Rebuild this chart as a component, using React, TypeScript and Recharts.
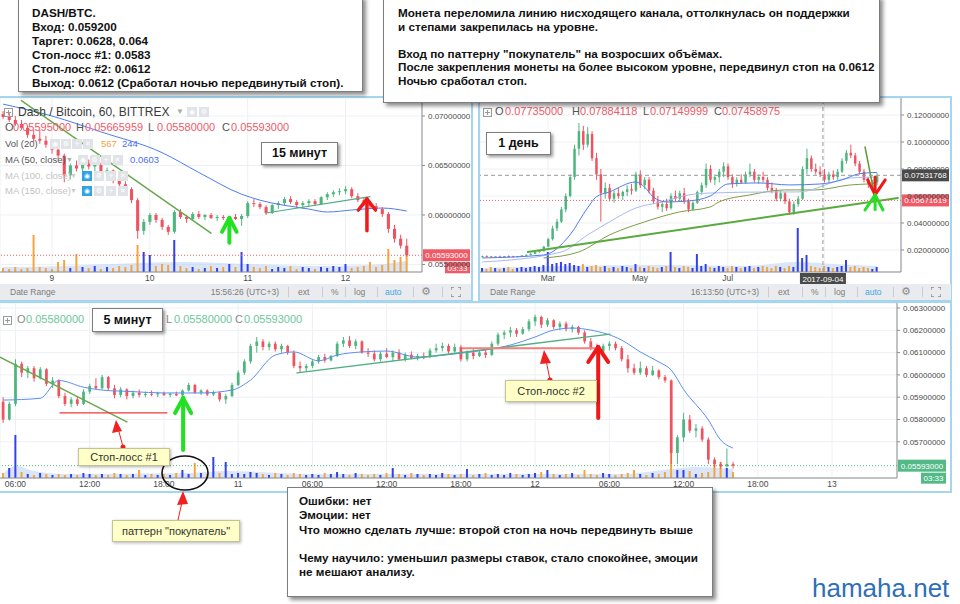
import React from "react";
import {
  ComposedChart,
  Bar,
  Line,
  Area,
  XAxis,
  YAxis,
  CartesianGrid,
  ReferenceLine,
  Cell,
} from "recharts";

const FONT = "'Liberation Sans', Arial, Helvetica, sans-serif";
const UP = "#4fb57f";
const DOWN = "#ee5360";
const VOL_UP = "#3440ec";
const VOL_DOWN = "#f8a33c";
const AXIS = "#8e8e8e";
const FRAME = "#a6d6ee";
const ARROW_GREEN = "#22e022";
const ARROW_RED = "#f01818";

// ---- hourly panel ("15 минут"), prices in 1e-4 BTC: [open, high, low, close]
const hourlyCandles = [
  [702, 705, 697, 699], [699, 703, 694, 696], [696, 700, 690, 692], [692, 696, 686, 688], [688, 690, 678, 681],
  [681, 686, 674, 677], [677, 686, 672, 675], [675, 680, 668, 671], [671, 675, 662, 666], [666, 670, 656, 660],
  [660, 662, 633, 640], [640, 652, 636, 650], [650, 655, 644, 647], [647, 654, 643, 652], [652, 656, 646, 649],
  [649, 654, 644, 651], [651, 653, 640, 643], [643, 648, 638, 645], [645, 646, 632, 636], [636, 640, 628, 631],
  [631, 634, 622, 626], [626, 628, 612, 615], [615, 617, 576, 584], [584, 596, 580, 593], [593, 602, 590, 600],
  [600, 602, 592, 595], [595, 597, 585, 588], [588, 590, 580, 583], [583, 605, 581, 603], [603, 606, 596, 598],
  [598, 600, 592, 596], [596, 603, 594, 601], [601, 604, 596, 598], [598, 601, 595, 600], [600, 602, 596, 597],
  [597, 600, 594, 598], [598, 600, 595, 597], [597, 599, 594, 598], [598, 601, 595, 596], [596, 601, 589, 599],
  [599, 614, 597, 612], [612, 616, 608, 611], [611, 613, 606, 608], [608, 610, 600, 602], [602, 611, 601, 610],
  [610, 614, 606, 612], [612, 618, 609, 616], [616, 619, 611, 613], [613, 615, 607, 610], [610, 614, 606, 612],
  [612, 616, 609, 614], [614, 616, 609, 611], [611, 619, 610, 618], [618, 623, 615, 621], [621, 625, 618, 623],
  [623, 627, 620, 624], [624, 629, 621, 626], [626, 628, 617, 619], [619, 622, 613, 615], [615, 618, 609, 611],
  [611, 614, 607, 609], [609, 612, 604, 606], [606, 608, 598, 601], [601, 603, 582, 586], [586, 590, 572, 576],
  [576, 580, 566, 569], [569, 576, 558, 559.3],
];
const hourlyVolume = [
  4, 3, 5, 3, 4, 37, 5, 4, 3, 10, 12, 4, 18, 5, 4, 6, 3, 5, 4, 6,
  5, 7, 27, 20, 17, 6, 8, 7, 32, 6, 4, 5, 3, 4, 6, 4, 5, 8, 5, 20,
  8, 5, 4, 6, 3, 5, 4, 6, 3, 5, 4, 3, 5, 4, 6, 5, 8, 4, 5, 6,
  10, 5, 7, 23, 12, 15, 23,
];
const hourlyMa50 = [
  [0, 712], [8, 700], [16, 684], [26, 663], [32, 643], [39, 621], [42, 615],
  [50, 606], [53, 603], [57, 605], [62, 607], [66, 604],
];
const hourlyVolMa = [[0, 5], [10, 6], [22, 9], [30, 10], [40, 8], [52, 6], [60, 7], [66, 11]];
const hourlyDays = [8, 24, 40, 56];
const hourlyDayLabels = ["9", "10", "11", "12"];
const hourlyPriceTicks = [0.055, 0.06, 0.065, 0.07];

// ---- daily panel ("1 день"), 3-day candles, 1e-4 BTC
const dailyCandles = [
  [150, 158, 146, 154], [154, 160, 150, 152], [152, 156, 146, 149], [149, 155, 145, 153], [153, 158, 150, 151],
  [151, 156, 147, 155], [155, 160, 151, 153], [153, 157, 148, 150], [150, 156, 147, 154], [154, 162, 152, 160],
  [160, 168, 156, 164], [164, 176, 160, 172], [172, 190, 168, 186], [186, 200, 180, 192], [192, 230, 188, 225],
  [225, 290, 220, 280], [280, 380, 270, 360], [360, 430, 340, 410], [410, 520, 400, 500], [500, 620, 480, 600],
  [600, 760, 590, 740], [740, 980, 720, 950], [950, 1140, 900, 1080], [1080, 1120, 940, 980], [980, 1110, 960, 1060],
  [1060, 1080, 860, 880], [880, 920, 720, 760], [760, 800, 410, 620], [620, 700, 580, 660], [660, 690, 560, 580],
  [580, 640, 550, 620], [620, 660, 580, 600], [600, 640, 570, 630], [630, 680, 600, 650], [650, 690, 610, 640],
  [640, 780, 630, 760], [760, 790, 660, 680], [680, 740, 650, 720], [720, 740, 620, 640], [640, 660, 540, 560],
  [560, 600, 500, 520], [520, 560, 480, 540], [540, 580, 490, 510], [510, 620, 500, 600], [600, 640, 560, 580],
  [580, 640, 560, 620], [620, 660, 540, 560], [560, 580, 480, 500], [500, 560, 490, 550], [550, 640, 540, 630],
  [630, 700, 610, 680], [680, 840, 660, 800], [800, 830, 700, 720], [720, 760, 680, 740], [740, 800, 700, 780],
  [780, 850, 740, 820], [820, 840, 720, 740], [740, 760, 660, 690], [690, 740, 670, 720], [720, 760, 690, 700],
  [700, 780, 690, 760], [760, 840, 740, 780], [780, 800, 700, 720], [720, 760, 690, 740], [740, 780, 700, 720],
  [720, 740, 640, 660], [660, 700, 620, 640], [640, 660, 560, 580], [580, 640, 560, 620], [620, 630, 540, 560],
  [560, 580, 460, 480], [480, 560, 460, 540], [540, 600, 520, 580], [580, 820, 570, 800], [800, 950, 760, 880],
  [880, 900, 780, 800], [800, 840, 760, 780], [780, 820, 740, 760], [760, 800, 700, 720], [720, 780, 700, 760],
  [760, 790, 720, 740], [740, 800, 720, 780], [780, 880, 770, 860], [860, 940, 840, 920], [920, 980, 880, 900],
  [900, 920, 820, 840], [840, 860, 760, 780], [780, 800, 700, 720], [720, 740, 660, 690], [690, 720, 650, 700],
  [700, 770, 680, 746],
];
const dailyVolume = [
  4, 3, 5, 4, 3, 4, 5, 3, 4, 5, 4, 5, 6, 5, 7, 20, 8, 9, 10, 8,
  9, 7, 6, 8, 5, 6, 7, 5, 6, 4, 5, 4, 6, 5, 4, 8, 5, 4, 6, 5,
  4, 5, 6, 20, 5, 4, 6, 5, 4, 18, 6, 8, 5, 4, 6, 5, 4, 6, 5, 4,
  5, 6, 4, 5, 6, 5, 4, 6, 5, 4, 6, 5, 44, 14, 17, 6, 5, 4, 6, 5,
  4, 5, 6, 12, 5, 6, 4, 5, 4, 3, 5,
];
const dailyMa50 = [
  [0, 141], [14, 163], [20, 311], [24, 511], [26, 593], [29, 630], [35, 704], [37, 667], [39, 593],
  [42, 556], [47, 563], [52, 600], [56, 689], [63, 697], [70, 682], [77, 689], [82, 719], [86, 765], [90, 775],
];
const dailyMa100 = [
  [0, 111], [18, 185], [24, 311], [29, 408], [35, 511], [41, 556], [47, 608], [52, 622],
  [66, 630], [72, 630], [84, 734], [90, 741],
];
const dailyMa150 = [
  [14, 141], [22, 185], [29, 311], [37, 408], [45, 482], [52, 519], [54, 556], [61, 608],
  [69, 645], [76, 645], [84, 682], [88, 689],
];
const dailyVolMa = [[0, 4], [20, 6], [40, 7], [60, 6], [72, 10], [80, 8], [90, 6]];
const dailyMonths = [15, 36, 56, 78];
const dailyMonthLabels = ["Mar", "May", "Jul", ""];
const dailyPriceTicks = [0.02, 0.04, 0.06, 0.08, 0.1, 0.12];

// ---- 5 min panel ("5 минут"), shown as 30-min candles, 1e-5 BTC
const fiveCandles = [
  [5880, 5900, 5785, 5800], [5800, 5880, 5795, 5870], [5870, 6070, 5860, 6050], [6050, 6060, 5990, 6010], [6010, 6040, 5985, 6030],
  [6030, 6040, 5970, 5985], [5985, 6035, 5980, 6025], [6025, 6030, 5950, 5960], [5960, 5990, 5940, 5975], [5975, 5980, 5895, 5905],
  [5905, 5920, 5860, 5870], [5870, 5900, 5855, 5890], [5890, 5905, 5860, 5870], [5870, 5935, 5865, 5925], [5925, 5960, 5915, 5950],
  [5950, 5985, 5935, 5940], [5940, 6000, 5935, 5990], [5990, 5995, 5930, 5940], [5940, 5955, 5895, 5910], [5910, 5945, 5900, 5935],
  [5935, 5940, 5890, 5905], [5905, 5930, 5895, 5920], [5920, 5935, 5900, 5910], [5910, 5925, 5900, 5915], [5915, 5930, 5905, 5912],
  [5912, 5925, 5900, 5918], [5918, 5925, 5905, 5910], [5910, 5920, 5900, 5915], [5915, 5925, 5905, 5908], [5908, 5935, 5905, 5930],
  [5930, 5965, 5925, 5955], [5955, 5960, 5915, 5920], [5920, 5935, 5910, 5930], [5930, 5935, 5905, 5912], [5912, 5930, 5905, 5920],
  [5920, 5925, 5880, 5890], [5890, 5915, 5870, 5905], [5905, 5965, 5900, 5955], [5955, 6020, 5950, 6010], [6010, 6070, 6000, 6060],
  [6060, 6140, 6050, 6130], [6130, 6170, 6100, 6150], [6150, 6160, 6110, 6125], [6125, 6150, 6110, 6140], [6140, 6150, 6105, 6115],
  [6115, 6140, 6100, 6130], [6130, 6135, 6090, 6100], [6100, 6110, 6030, 6040], [6040, 6060, 6010, 6030], [6030, 6050, 6015, 6040],
  [6040, 6070, 6030, 6060], [6060, 6090, 6050, 6080], [6080, 6095, 6055, 6065], [6065, 6090, 6060, 6085], [6085, 6150, 6080, 6140],
  [6140, 6170, 6125, 6155], [6155, 6175, 6120, 6130], [6130, 6160, 6115, 6150], [6150, 6155, 6095, 6100], [6100, 6120, 6080, 6095],
  [6095, 6110, 6060, 6070], [6070, 6105, 6060, 6095], [6095, 6120, 6075, 6080], [6080, 6110, 6060, 6100], [6100, 6115, 6065, 6070],
  [6070, 6100, 6060, 6090], [6090, 6105, 6070, 6075], [6075, 6095, 6065, 6085], [6085, 6100, 6070, 6080], [6080, 6120, 6075, 6110],
  [6110, 6140, 6100, 6120], [6120, 6145, 6105, 6130], [6130, 6140, 6095, 6105], [6105, 6140, 6100, 6125], [6125, 6135, 6060, 6070],
  [6070, 6110, 6060, 6100], [6100, 6115, 6070, 6085], [6085, 6110, 6080, 6100], [6100, 6120, 6075, 6090], [6090, 6150, 6085, 6140],
  [6140, 6190, 6130, 6180], [6180, 6200, 6160, 6190], [6190, 6215, 6170, 6200], [6200, 6210, 6170, 6185], [6185, 6215, 6180, 6205],
  [6205, 6250, 6195, 6240], [6240, 6270, 6220, 6260], [6260, 6265, 6210, 6225], [6225, 6255, 6215, 6245], [6245, 6250, 6205, 6215],
  [6215, 6240, 6200, 6230], [6230, 6240, 6195, 6205], [6205, 6225, 6190, 6215], [6215, 6220, 6180, 6190], [6190, 6200, 6140, 6150],
  [6150, 6165, 6110, 6120], [6120, 6140, 6095, 6105], [6105, 6140, 6100, 6130], [6130, 6150, 6110, 6140], [6140, 6150, 6110, 6120],
  [6120, 6130, 6060, 6070], [6070, 6090, 6010, 6030], [6030, 6050, 6000, 6010], [6010, 6060, 6000, 6030], [6030, 6040, 5990, 6000],
  [6000, 6040, 5995, 6020], [6020, 6025, 5980, 5990], [5990, 6000, 5965, 5975], [5975, 5980, 5600, 5650], [5650, 5730, 5600, 5720],
  [5720, 5830, 5700, 5800], [5800, 5820, 5740, 5750], [5750, 5780, 5720, 5760], [5760, 5770, 5700, 5710], [5710, 5720, 5600, 5620],
  [5620, 5630, 5585, 5600], [5600, 5610, 5580, 5590], [5590, 5670, 5585, 5600], [5600, 5610, 5580, 5593],
];
const fiveVolume = [
  5, 10, 43, 6, 4, 3, 5, 4, 3, 4, 3, 4, 3, 5, 4, 3, 4, 3, 5, 4,
  3, 4, 8, 3, 4, 3, 4, 3, 5, 8, 4, 15, 5, 4, 21, 5, 16, 4, 5, 4,
  6, 5, 4, 3, 5, 4, 3, 5, 4, 3, 4, 3, 5, 4, 6, 4, 3, 5, 4, 3,
  4, 3, 5, 10, 4, 3, 5, 4, 3, 4, 3, 5, 4, 3, 4, 9, 3, 4, 5, 3,
  4, 3, 5, 4, 3, 4, 5, 6, 8, 4, 3, 4, 5, 3, 8, 4, 3, 5, 4, 3,
  4, 5, 8, 4, 3, 5, 4, 6, 26, 8, 8, 7, 4, 5, 6, 15, 16, 10, 6,
];
const fiveMa = [
  [0, 5887], [6, 5895], [9, 5975], [13, 5945], [16, 5932], [21, 5925], [26, 5919], [32, 5919],
  [37, 5932], [40, 5977], [44, 6089], [47, 6103], [51, 6063], [54, 6089], [58, 6103], [62, 6107],
  [67, 6080], [73, 6094], [78, 6112], [82, 6134], [86, 6170], [89, 6201], [92, 6210], [95, 6201],
  [100, 6156], [103, 6103], [106, 6058], [108, 6022], [110, 5935], [114, 5798], [116, 5708], [118, 5672],
];
const fiveVolMa = [[0, 4], [2, 12], [5, 7], [10, 4], [30, 5], [36, 7], [50, 4], [80, 4], [100, 4], [108, 9], [112, 11], [118, 9]];
const fiveTimes = [2, 14, 26, 38, 50, 62, 74, 86, 98, 110, 122, 134];
const fiveTimeLabels = ["06:00", "12:00", "18:00", "11", "06:00", "12:00", "18:00", "12", "06:00", "12:00", "18:00", "13"];
const fivePriceTicks = [0.057, 0.058, 0.059, 0.06, 0.061, 0.062, 0.063];

// drawn annotations: [x1, y1, x2, y2, colour, width] in panel units
const hourlySegs: any[] = [
  [3, 715.6, 34, 581.7, "#6aa84f", 1.5],
  [43, 602, 60, 618.5, "#4fae84", 1.2],
  [37, 572, 37, 597, ARROW_GREEN, 4],
  [35.8, 583, 37, 597, ARROW_GREEN, 4],
  [38.2, 583, 37, 597, ARROW_GREEN, 4],
  [59.5, 584, 59.5, 616, ARROW_RED, 3.5],
  [58.1, 605, 59.5, 616, ARROW_RED, 3.5],
  [60.9, 605, 59.5, 616, ARROW_RED, 3.5],
];
const dailySegs: any[] = [
  [10.4, 185, 94.8, 585, "#5aaa3e", 2],
  [87.3, 963, 89.6, 585, "#5a9e3a", 1.5],
  [89.6, 740, 89.6, 608, ARROW_RED, 3],
  [87.9, 719, 89.6, 608, ARROW_RED, 3],
  [91.9, 719, 89.6, 608, ARROW_RED, 3],
  [89.6, 608, 89.6, 500, ARROW_GREEN, 3],
  [87.3, 496, 89.6, 608, ARROW_GREEN, 3],
  [91.4, 496, 89.6, 608, ARROW_GREEN, 3],
];
const fiveSegs: any[] = [
  [-0.5, 6080, 20, 5789, "#6aa84f", 1.5],
  [47.5, 6009, 98.1, 6183, "#4fae84", 1.3],
  [9.2, 5830, 26.5, 5830, "#f03a3a", 1.2],
  [74.3, 6120, 96.0, 6120, "#f27f7f", 2],
  [29.1, 5663, 29.1, 5896, ARROW_GREEN, 4],
  [27.8, 5829, 29.1, 5896, ARROW_GREEN, 4],
  [30.4, 5829, 29.1, 5896, ARROW_GREEN, 4],
  [96.2, 5807, 96.2, 6125, ARROW_RED, 4],
  [94.6, 6058, 96.2, 6125, ARROW_RED, 4],
  [97.8, 6058, 96.2, 6125, ARROW_RED, 4],
];

function buildRows(candles: number[][], volume: number[], total: number, scale: number, lines: Record<string, number[][]>, volMa: number[][]) {
  const rows: any[] = [];
  for (let i = 0; i < total; i++) {
    const c = candles[i];
    rows.push(c ? { i, o: c[0] / scale, h: c[1] / scale, l: c[2] / scale, c: c[3] / scale, v: volume[i] } : { i });
  }
  Object.keys(lines).forEach((key) => lines[key].forEach(([i, v]) => { rows[i][key] = v / scale; }));
  volMa.forEach(([i, v]) => { rows[i].vm = v; });
  return rows;
}

const candleRange = (d: any) => (d.h == null ? undefined : [d.l, d.h]);

function candleShape(rows: any[], bodyRatio: number) {
  return (props: any) => {
    const d = props.payload && props.payload.o != null ? props.payload : rows[props.index];
    const { x, y, width, height } = props;
    if (!d || d.o == null || !Number.isFinite(y) || !Number.isFinite(height)) return <g />;
    const top = Math.min(y, y + height);
    const bottom = Math.max(y, y + height);
    const k = d.h > d.l ? (bottom - top) / (d.h - d.l) : 0;
    const py = (v: number) => top + (d.h - v) * k;
    const color = d.c >= d.o ? UP : DOWN;
    const cx = x + width / 2;
    const bw = Math.max(1.5, width * bodyRatio);
    const y1 = py(Math.max(d.o, d.c));
    const y2 = py(Math.min(d.o, d.c));
    return (
      <g>
        <line x1={cx} x2={cx} y1={top} y2={bottom} stroke={color} strokeWidth={1} />
        <rect x={cx - bw / 2} y={y1} width={bw} height={Math.max(1, y2 - y1)} fill={color} />
      </g>
    );
  };
}

function segLines(segs: any[], scale: number, prefix: string) {
  return segs.map((s, n) => (
    <ReferenceLine
      key={prefix + n}
      xAxisId="n"
      yAxisId={0}
      segment={[{ x: s[0], y: s[1] / scale }, { x: s[2], y: s[3] / scale }]}
      stroke={s[4]}
      strokeWidth={s[5]}
      strokeLinecap="round"
      ifOverflow="hidden"
    />
  ));
}

function priceTag(text: string, bg: string, w: number, sub?: string) {
  return (props: any) => {
    const vb = props.viewBox || {};
    const x = vb.x + vb.width + 1;
    const y = vb.y;
    return (
      <g>
        <rect x={x} y={y - 6} width={w} height={12} fill={bg} />
        <text x={x + w / 2} y={y + 3} textAnchor="middle" fill="#fff" fontSize={8} fontFamily={FONT}>{text}</text>
        {sub ? (
          <g>
            <rect x={x + w - 25} y={y + 7} width={25} height={11} fill={bg} />
            <text x={x + w - 12.5} y={y + 15.5} textAnchor="middle" fill="#fff" fontSize={8} fontFamily={FONT}>{sub}</text>
          </g>
        ) : null}
      </g>
    );
  };
}

function dateTag(text: string, bg: string) {
  return (props: any) => {
    const vb = props.viewBox || {};
    const x = vb.x;
    const y = vb.y + vb.height;
    return (
      <g>
        <rect x={x - 23} y={y + 1} width={46} height={11} fill={bg} />
        <text x={x} y={y + 9.5} textAnchor="middle" fill="#fff" fontSize={8} fontFamily={FONT}>{text}</text>
      </g>
    );
  };
}

function CandlePanel(p: any) {
  const tick = { fontSize: 8, fill: "#4a4a4a", fontFamily: FONT };
  return (
    <ComposedChart width={p.width} height={p.height} data={p.rows} margin={{ top: 0, right: 0, bottom: 0, left: 0 }}>
      <CartesianGrid stroke="#edf0f4" />
      <XAxis
        dataKey="i"
        ticks={p.xTicks}
        interval={0}
        tickFormatter={(v: any) => p.xLabels[p.xTicks.indexOf(v)] ?? ""}
        height={12}
        tickSize={0}
        tickMargin={3}
        axisLine={{ stroke: AXIS }}
        tick={{ ...tick, fontSize: 8.5 }}
      />
      <XAxis xAxisId="v" dataKey="i" hide />
      <XAxis xAxisId="n" dataKey="i" type="number" domain={[-0.5, p.n - 0.5]} allowDataOverflow hide />
      <YAxis
        orientation="right"
        width={p.yWidth}
        domain={p.yDomain}
        ticks={p.yTicks}
        interval={0}
        allowDataOverflow
        tickFormatter={(v: number) => v.toFixed(8)}
        tickSize={3}
        tickMargin={3}
        axisLine={{ stroke: AXIS }}
        tickLine={{ stroke: AXIS }}
        tick={tick}
      />
      <YAxis yAxisId="vol" hide domain={[0, p.volMax]} allowDataOverflow />
      <Area xAxisId="v" yAxisId="vol" dataKey="vm" type="monotone" connectNulls stroke="none" fill="#b9cff3" fillOpacity={0.55} isAnimationActive={false} />
      <Bar xAxisId="v" yAxisId="vol" dataKey="v" barSize={p.volBar} isAnimationActive={false}>
        {p.rows.map((r: any, idx: number) => (
          <Cell key={idx} fill={r.c >= r.o ? VOL_UP : VOL_DOWN} />
        ))}
      </Bar>
      <Bar dataKey={candleRange} shape={candleShape(p.rows, p.bodyRatio)} isAnimationActive={false} />
      {p.lines.map((l: any) => (
        <Line key={l.key} dataKey={l.key} type="monotone" connectNulls dot={false} activeDot={false} stroke={l.color} strokeWidth={l.w} isAnimationActive={false} />
      ))}
      {segLines(p.segs, p.scale, p.id)}
      {p.extras}
    </ComposedChart>
  );
}

const Txt = ({ x, y, size = 11, color = "#444", bold = false, children }: any) => (
  <div
    style={{
      position: "absolute",
      left: x,
      top: y - size * 0.6,
      fontSize: size,
      lineHeight: `${size * 1.2}px`,
      color,
      whiteSpace: "pre",
      fontFamily: FONT,
      fontWeight: bold ? "bold" : "normal",
    }}
  >
    {children}
  </div>
);

function PlusBox({ x, y }: any) {
  return (
    <svg style={{ position: "absolute", left: x, top: y }} width={9} height={9}>
      <rect x={0.5} y={0.5} width={8} height={8} fill="none" stroke="#9a9a9a" />
      <line x1={2} y1={4.5} x2={7} y2={4.5} stroke="#9a9a9a" />
      <line x1={4.5} y1={2} x2={4.5} y2={7} stroke="#9a9a9a" />
    </svg>
  );
}

function Icons({ x, y, n = 4, gap = 12, blue = false }: any) {
  const glyphs = ["◉", "⚙", "+", "✕"];
  const items = [];
  for (let k = 0; k < n; k++) {
    items.push(
      <div
        key={k}
        style={{
          position: "absolute",
          left: x + k * gap,
          top: y - 5,
          width: 10,
          height: 10,
          background: blue && k === 0 ? "#2ea3e3" : "#e0e3e7",
          color: "#fff",
          fontSize: 7,
          lineHeight: "10px",
          textAlign: "center",
          fontFamily: "'DejaVu Sans', sans-serif",
        }}
      >
        {glyphs[k % 4]}
      </div>
    );
  }
  return <>{items}</>;
}

function Toolbar({ left, top, time }: any) {
  const grey = "#7b7b7b";
  const t = (x: number, s: string, color = grey) => (
    <span style={{ position: "absolute", left: x, top: 3, fontSize: 8.5, color, whiteSpace: "nowrap" }}>{s}</span>
  );
  return (
    <div style={{ position: "absolute", left, top, width: 471, height: 16, background: "#e9ebee", fontFamily: FONT }}>
      {t(10, "Date Range")}
      <span style={{ position: "absolute", right: 471 - 279, top: 3, fontSize: 8.5, color: grey, whiteSpace: "nowrap" }}>{time}</span>
      {[288, 322, 345, 377, 413, 442].map((x) => (
        <div key={x} style={{ position: "absolute", left: x, top: 3, width: 1, height: 10, background: "#c9ccd1" }} />
      ))}
      {t(298, "ext")}
      {t(331, "%")}
      {t(354, "log")}
      {t(385, "auto", "#3ea6e5")}
      <span style={{ position: "absolute", left: 421, top: 1, fontSize: 11, color: "#8a8a8a", fontFamily: "'DejaVu Sans', sans-serif" }}>⚙</span>
      <svg style={{ position: "absolute", left: 451, top: 3 }} width={10} height={10}>
        <path d="M0 3V0h3M7 0h3v3M10 7v3H7M3 10H0V7" fill="none" stroke="#8a8a8a" strokeWidth={1.3} />
      </svg>
    </div>
  );
}

const noteBox: any = {
  position: "absolute",
  background: "#fff",
  border: "1px solid #7d7d7d",
  boxShadow: "3px 3px 4px rgba(0,0,0,0.45)",
  boxSizing: "border-box",
  fontWeight: "bold",
  fontSize: 11.7,
  color: "#111",
  whiteSpace: "pre",
  fontFamily: FONT,
};

const calloutBox: any = {
  position: "absolute",
  background: "#ffffc8",
  border: "1px solid #c3c39a",
  boxShadow: "1px 1px 3px rgba(0,0,0,0.3)",
  boxSizing: "border-box",
  fontSize: 11,
  color: "#333",
  textAlign: "center",
  whiteSpace: "nowrap",
  fontFamily: FONT,
};

const labelBox = (left: number, top: number, w: number, h: number, text: string) => (
  <div
    style={{
      ...noteBox,
      left,
      top,
      width: w,
      height: h,
      fontSize: 12.5,
      lineHeight: `${h - 2}px`,
      textAlign: "center",
      boxShadow: "2px 2px 3px rgba(0,0,0,0.4)",
    }}
  >
    {text}
  </div>
);

export default function App() {
  const hourlyRows = buildRows(hourlyCandles, hourlyVolume, 69, 10000, { ma: hourlyMa50 }, hourlyVolMa);
  const dailyRows = buildRows(dailyCandles, dailyVolume, 96, 10000, { ma50: dailyMa50, ma100: dailyMa100, ma150: dailyMa150 }, dailyVolMa);
  const fiveRows = buildRows(fiveCandles, fiveVolume, 145, 100000, { ma: fiveMa }, fiveVolMa);

  const red = "#ef5a66";
  const green = "#53b987";

  return (
    <div style={{ position: "relative", width: 960, height: 604, overflow: "hidden", background: "#fff", fontFamily: FONT }}>
      <style>{"body{margin:0}"}</style>

      {/* hourly panel */}
      <div style={{ position: "absolute", left: -2, top: 96, width: 475, height: 206, border: `2px solid ${FRAME}`, boxSizing: "border-box" }} />
      <div style={{ position: "absolute", left: 0, top: 98 }}>
        <CandlePanel
          id="h"
          width={471}
          height={186}
          yWidth={49}
          rows={hourlyRows}
          n={69}
          scale={10000}
          yDomain={[0.05424, 0.07182]}
          yTicks={hourlyPriceTicks}
          xTicks={hourlyDays}
          xLabels={hourlyDayLabels}
          volMax={174}
          volBar={2}
          bodyRatio={0.62}
          lines={[{ key: "ma", color: "#4d7cf0", w: 1 }]}
          segs={hourlySegs}
          extras={[
            <ReferenceLine key="hp" y={0.05593} stroke={red} strokeDasharray="1 2" label={priceTag("0.05593000", red, 47, "03:33")} />,
          ]}
        />
      </div>
      <Toolbar left={0} top={284} time="15:56:26 (UTC+3)" />
      <PlusBox x={4} y={108} />
      <Txt x={18} y={112} size={12} color="#3a3a3a">Dash / Bitcoin, 60, BITTREX</Txt>
      <Txt x={176} y={112} size={8} color="#aaa">▼</Txt>
      <Icons x={187} y={112} n={2} />
      <Txt x={5} y={128} color="#555">O</Txt>
      <Txt x={13} y={128} color={red}>0.05595000</Txt>
      <Txt x={76} y={128} color="#555">H</Txt>
      <Txt x={85} y={128} color={red}>0.05665959</Txt>
      <Txt x={148} y={128} color="#555">L</Txt>
      <Txt x={157} y={128} color={red}>0.05580000</Txt>
      <Txt x={222} y={128} color="#555">C</Txt>
      <Txt x={231} y={128} color={red}>0.05593000</Txt>
      <Txt x={5} y={144} size={9.5} color="#555">Vol (20)</Txt>
      <Icons x={50} y={144} n={4} gap={11} />
      <Txt x={101} y={144} size={9.5} color="#f5a03a">567</Txt>
      <Txt x={122} y={144} size={9.5} color="#4c6ef5">244</Txt>
      <Txt x={5} y={160} size={9.5} color="#555">MA (50, close)</Txt>
      <Txt x={66} y={160} size={7} color="#aaa">▼</Txt>
      <Icons x={78} y={160} n={4} gap={11.5} />
      <Txt x={130} y={160} size={9.5} color="#4c6ef5">0.0603</Txt>
      <Txt x={5} y={176} size={9.5} color="#c4c4c4">MA (100, close)</Txt>
      <Txt x={70} y={176} size={7} color="#ccc">▼</Txt>
      <Icons x={82} y={176} n={4} gap={12} blue />
      <Txt x={5} y={191} size={9.5} color="#c4c4c4">MA (150, close)</Txt>
      <Txt x={70} y={191} size={7} color="#ccc">▼</Txt>
      <Icons x={82} y={191} n={4} gap={12} blue />
      {labelBox(261, 142, 77, 23, "15 минут")}

      {/* daily panel */}
      <div style={{ position: "absolute", left: 478, top: 96, width: 474, height: 206, border: `2px solid ${FRAME}`, boxSizing: "border-box" }} />
      <div style={{ position: "absolute", left: 480, top: 98 }}>
        <CandlePanel
          id="d"
          width={470}
          height={186}
          yWidth={49}
          rows={dailyRows}
          n={96}
          scale={10000}
          yDomain={[0.0037, 0.1326]}
          yTicks={dailyPriceTicks}
          xTicks={dailyMonths}
          xLabels={dailyMonthLabels}
          volMax={174}
          volBar={2}
          bodyRatio={0.62}
          lines={[
            { key: "ma150", color: "#7f9b45", w: 1 },
            { key: "ma100", color: "#aab9ee", w: 1 },
            { key: "ma50", color: "#4c7df0", w: 1 },
          ]}
          segs={dailySegs}
          extras={[
            <ReferenceLine key="dp" y={0.05671619} stroke={red} strokeDasharray="1 2" label={priceTag("0.05671619", red, 47)} />,
            <ReferenceLine key="dc" y={0.07531768} stroke="#9a9a9a" strokeDasharray="4 3" label={priceTag("0.07531768", "#4a4a4a", 47)} />,
            <ReferenceLine key="dv" xAxisId="n" x={77.7} stroke="#9a9a9a" strokeDasharray="4 3" label={dateTag("2017-09-04", "#4a4a4a")} />,
          ]}
        />
      </div>
      <Toolbar left={480} top={284} time="16:13:50 (UTC+3)" />
      <PlusBox x={483} y={108} />
      <Txt x={495} y={112} color="#555">O</Txt>
      <Txt x={505} y={112} color={red}>0.07735000</Txt>
      <Txt x={572} y={112} color="#555">H</Txt>
      <Txt x={580} y={112} color={red}>0.07884118</Txt>
      <Txt x={643} y={112} color="#555">L</Txt>
      <Txt x={650} y={112} color={red}>0.07149999</Txt>
      <Txt x={714} y={112} color="#555">C</Txt>
      <Txt x={722} y={112} color={red}>0.07458975</Txt>
      {labelBox(486, 132, 65, 23, "1 день")}

      {/* 5 minute panel */}
      <div style={{ position: "absolute", left: -2, top: 301, width: 954, height: 192, border: `2px solid ${FRAME}`, boxSizing: "border-box" }} />
      <div style={{ position: "absolute", left: 0, top: 303 }}>
        <CandlePanel
          id="f"
          width={950}
          height={187}
          yWidth={53}
          rows={fiveRows}
          n={145}
          scale={100000}
          yDomain={[0.055377, 0.063224]}
          yTicks={fivePriceTicks}
          xTicks={fiveTimes}
          xLabels={fiveTimeLabels}
          volMax={175}
          volBar={2}
          bodyRatio={0.55}
          lines={[{ key: "ma", color: "#5b8ef0", w: 1 }]}
          segs={fiveSegs}
          extras={[
            <ReferenceLine key="fp" y={0.05593} stroke={green} strokeDasharray="1 2" label={priceTag("0.05593000", green, 48, "03:33")} />,
          ]}
        />
      </div>
      <PlusBox x={3} y={316} />
      <Txt x={17} y={320} color="#888">O</Txt>
      <Txt x={26} y={320} color="#6cc79a">0.05580000</Txt>
      <Txt x={166} y={320} color="#888">L</Txt>
      <Txt x={174} y={320} color="#6cc79a">0.05580000</Txt>
      <Txt x={235} y={320} color="#888">C</Txt>
      <Txt x={244} y={320} color="#6cc79a">0.05593000</Txt>
      {labelBox(92, 308, 71, 24, "5 минут")}

      {/* callout pointers */}
      <svg style={{ position: "absolute", left: 0, top: 0 }} width={960} height={604}>
        <ellipse cx={185} cy={473} rx={23} ry={17} fill="none" stroke="#111" strokeWidth={1.6} />
        <line x1={123} y1={447} x2={118} y2={428} stroke="#e22" strokeWidth={1} />
        <circle cx={123} cy={447} r={2.5} fill="#e22" />
        <polygon points="116,420 112,433 122,431" fill="#e22" />
        <line x1={550} y1={380} x2={546} y2={360} stroke="#e22" strokeWidth={1} />
        <circle cx={550} cy={380} r={2.5} fill="#e22" />
        <polygon points="544,350 540,364 551,363" fill="#e22" />
        <line x1={178} y1={520} x2={182} y2={502} stroke="#e22" strokeWidth={1} />
        <polygon points="183,491 177,505 188,504" fill="#e22" />
      </svg>
      <div style={{ ...calloutBox, left: 78, top: 448, width: 92, height: 18, lineHeight: "16px" }}>Стоп-лосс #1</div>
      <div style={{ ...calloutBox, left: 505, top: 380, width: 92, height: 22, lineHeight: "20px" }}>Стоп-лосс #2</div>
      <div style={{ ...calloutBox, left: 112, top: 520, width: 128, height: 22, lineHeight: "20px" }}>паттерн "покупатель"</div>

      {/* notes */}
      <div style={{ ...noteBox, left: 18, top: -4, width: 345, height: 96, padding: "9px 0 0 13px", lineHeight: "13.9px" }}>
        {"DASH/BTC.\nВход: 0.059200\nТаргет: 0.0628, 0.064\nСтоп-лосс #1: 0.0583\nСтоп-лосс #2: 0.0612\nВыход: 0.0612 (Сработал ночью передвинутый стоп)."}
      </div>
      <div style={{ ...noteBox, left: 383, top: -4, width: 497, height: 107, padding: "9px 0 0 14px", lineHeight: "13.6px" }}>
        {"Монета переломила линию нисходящего канала, оттолкнулась он поддержки\nи степами закрепилась на уровне.\n\nВход по паттерну \"покупатель\" на возросших объёмах.\nПосле закрепления монеты на более высоком уровне, передвинул стоп на 0.0612\nНочью сработал стоп."}
      </div>
      <div style={{ ...noteBox, left: 287, top: 487, width: 426, height: 110, padding: "6px 0 0 11px", lineHeight: "14.3px" }}>
        {"Ошибки: нет\nЭмоции: нет\nЧто можно сделать лучше: второй стоп на ночь передвинуть выше\n\nЧему научило: уменьшил размеры ставок, стало спокойнее, эмоции\nне мешают анализу."}
      </div>
      <div style={{ position: "absolute", left: 812, top: 576, fontSize: 26, lineHeight: "24px", color: "#2f6fb7", fontFamily: FONT }}>hamaha.net</div>
    </div>
  );
}
